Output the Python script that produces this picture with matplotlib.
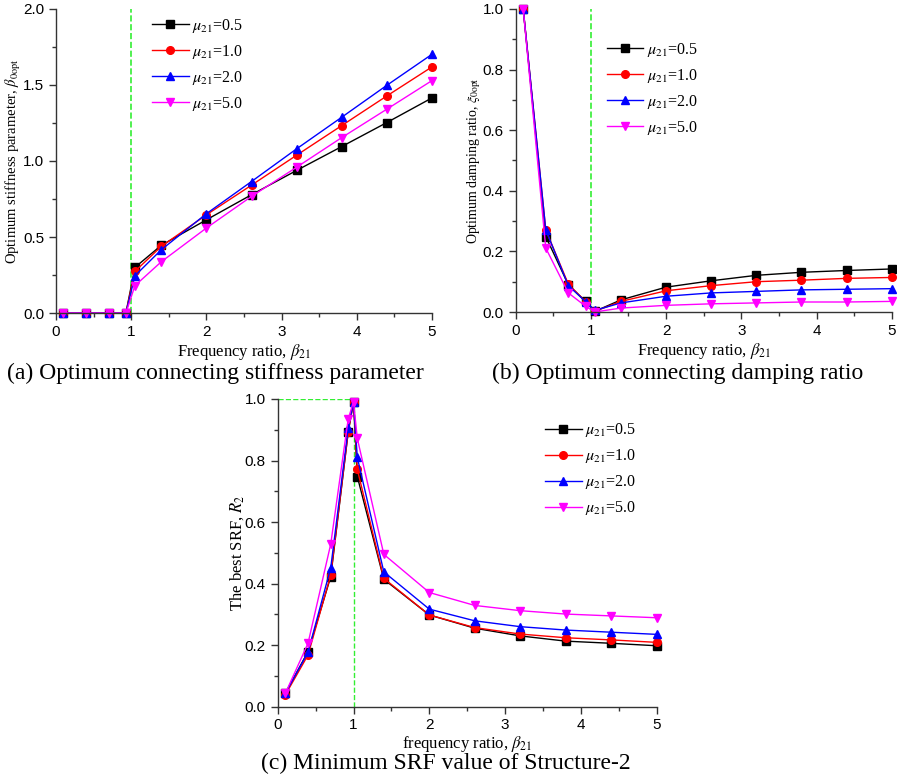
import numpy as np
import matplotlib
matplotlib.use("Agg")
import matplotlib.pyplot as plt
from matplotlib.ticker import MultipleLocator

plt.rcParams['font.family'] = ['Liberation Serif', 'DejaVu Serif']
plt.rcParams['mathtext.fontset'] = 'stix'

# frequency ratio beta21 at the marked points
beta = [0.1, 0.4, 0.7, 0.93, 1.05, 1.4, 2.0, 2.6, 3.2, 3.8, 4.4, 5.0]
beta_c = [0.1, 0.4, 0.7, 0.93, 1.0, 1.05, 1.4, 2.0, 2.6, 3.2, 3.8, 4.4, 5.0]

mu_labels = ["0.5", "1.0", "2.0", "5.0"]

# (a) optimum stiffness parameter
stiff_05 = [0, 0, 0, 0, 0.300, 0.445, 0.613, 0.778, 0.938, 1.095, 1.253, 1.415]
stiff_10 = [0, 0, 0, 0, 0.274, 0.438, 0.646, 0.841, 1.038, 1.233, 1.428, 1.619]
stiff_20 = [0, 0, 0, 0, 0.245, 0.416, 0.653, 0.865, 1.080, 1.288, 1.498, 1.702]
stiff_50 = [0, 0, 0, 0, 0.180, 0.337, 0.559, 0.767, 0.959, 1.154, 1.341, 1.529]

# (b) optimum damping ratio
damp_05 = [1.0, 0.249, 0.090, 0.035, 0.002, 0.040, 0.082, 0.103, 0.121, 0.131, 0.137, 0.142]
damp_10 = [1.0, 0.271, 0.092, 0.034, 0.002, 0.035, 0.070, 0.087, 0.100, 0.105, 0.111, 0.114]
damp_20 = [1.0, 0.271, 0.087, 0.034, 0.005, 0.030, 0.052, 0.063, 0.068, 0.073, 0.075, 0.077]
damp_50 = [1.0, 0.211, 0.063, 0.019, 0.000, 0.013, 0.022, 0.027, 0.030, 0.033, 0.033, 0.035]

# (c) best SRF R2
srf_05 = [0.043, 0.179, 0.423, 0.892, 0.991, 0.748, 0.414, 0.298, 0.255, 0.230, 0.213, 0.206, 0.198]
srf_10 = [0.038, 0.168, 0.428, 0.894, 0.991, 0.771, 0.417, 0.298, 0.257, 0.236, 0.224, 0.217, 0.209]
srf_20 = [0.043, 0.177, 0.452, 0.905, 0.991, 0.810, 0.438, 0.317, 0.279, 0.260, 0.249, 0.242, 0.235]
srf_50 = [0.043, 0.206, 0.529, 0.935, 0.991, 0.872, 0.495, 0.371, 0.329, 0.312, 0.301, 0.295, 0.289]

colors = ['black', 'red', 'blue', 'magenta']
markers = ['s', 'o', '^', 'v']
green = '#33ee33'

fig = plt.figure(figsize=(8.97, 7.80), dpi=100)
ax_a = fig.add_axes([0.0624, 0.5987, 0.4192, 0.3898])
ax_b = fig.add_axes([0.5749, 0.6000, 0.4192, 0.3885])
ax_c = fig.add_axes([0.3096, 0.0940, 0.4225, 0.3945])


def style(ax, ymax, ymaj, ymin):
    ax.set_xlim(0, 5)
    ax.set_ylim(0, ymax)
    ax.spines['top'].set_visible(False)
    ax.spines['right'].set_visible(False)
    for s in ['left', 'bottom']:
        ax.spines[s].set_color('#333333')
        ax.spines[s].set_linewidth(1.0)
    ax.xaxis.set_major_locator(MultipleLocator(1))
    ax.xaxis.set_minor_locator(MultipleLocator(0.5))
    ax.yaxis.set_major_locator(MultipleLocator(ymaj))
    ax.yaxis.set_minor_locator(MultipleLocator(ymin))
    ax.tick_params(which='major', direction='out', length=5, width=1, color='#333333',
                   labelsize=11, labelfontfamily='Liberation Sans')
    ax.tick_params(which='minor', direction='out', length=3, width=1, color='#333333')


def draw(ax, x, series):
    for ys, c, m, lab in zip(series, colors, markers, mu_labels):
        ax.plot(x, ys, color=c, marker=m, markersize=5.5, linewidth=1.0,
                label=r'$\mu_{21}$=' + lab, clip_on=False)


def legend(ax, x0, y0):
    ax.legend(loc='upper left', bbox_to_anchor=(x0, y0), frameon=False, fontsize=11.5,
              handlelength=2.3, handletextpad=0.2, labelspacing=0.5,
              borderpad=0, borderaxespad=0)


# (a)
style(ax_a, 2.0, 0.5, 0.25)
ax_a.plot([1, 1], [0, 2.0], '--', color=green, linewidth=1.2, zorder=0)
draw(ax_a, beta, [stiff_05, stiff_10, stiff_20, stiff_50])
ax_a.set_xlabel(r'Frequency ratio, $\beta_{21}$', fontsize=12, labelpad=2)
ax_a.set_ylabel(r'Optimum stiffness parameter, $\beta_{0\mathrm{opt}}$', fontsize=10.5, labelpad=0)
legend(ax_a, 0.255, 0.975)

# (b)
style(ax_b, 1.0, 0.2, 0.1)
ax_b.plot([1, 1], [0, 1.0], '--', color=green, linewidth=1.2, zorder=0)
draw(ax_b, beta, [damp_05, damp_10, damp_20, damp_50])
ax_b.set_xlabel(r'Frequency ratio, $\beta_{21}$', fontsize=12, labelpad=2)
ax_b.set_ylabel(r'Optimum damping ratio, $\xi_{0\mathrm{opt}}$', fontsize=10, labelpad=0)
legend(ax_b, 0.242, 0.895)

# (c)
style(ax_c, 1.0, 0.2, 0.1)
ax_c.plot([1, 1], [0, 1.0], '--', color=green, linewidth=1.0, zorder=0)
ax_c.plot([0, 1], [1.0, 1.0], '--', color=green, linewidth=1.0, zorder=0)
draw(ax_c, beta_c, [srf_05, srf_10, srf_20, srf_50])
ax_c.set_xlabel(r'frequency ratio, $\beta_{21}$', fontsize=12, labelpad=1)
ax_c.set_ylabel(r'The best SRF, $R_2$', fontsize=12, labelpad=-1)
legend(ax_c, 0.705, 0.927)

fig.text(215 / 897, 1 - 373 / 780, '(a) Optimum connecting stiffness parameter',
         ha='center', va='center', fontsize=17)
fig.text(678 / 897, 1 - 373 / 780, '(b) Optimum connecting damping ratio',
         ha='center', va='center', fontsize=17)
fig.text(446 / 897, 1 - 763 / 780, '(c) Minimum SRF value of Structure-2',
         ha='center', va='center', fontsize=17)

fig.savefig('out.png', dpi=100)
